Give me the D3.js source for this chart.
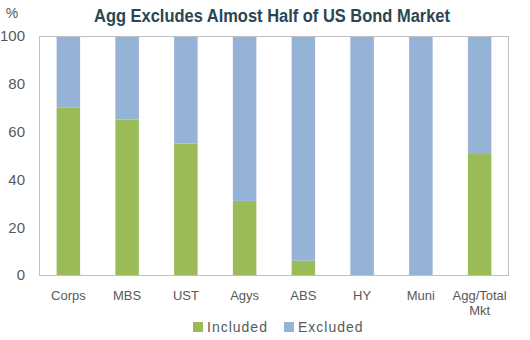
<!DOCTYPE html>
<html><head><meta charset="utf-8">
<script src="https://cdn.jsdelivr.net/npm/d3@7"></script>
<style>body{margin:0;background:#fff;}svg{display:block;}</style>
</head><body>
<svg id="c" width="530" height="340"></svg>
<script>
const categories = ["Corps","MBS","UST","Agys","ABS","HY","Muni","Agg/Total Mkt"];
const included = [70, 65, 55, 31, 6, 0, 0, 51];
const excluded = [30, 35, 45, 69, 94, 100, 100, 49];
const yTicks = [0, 20, 40, 60, 80, 100];
const seriesNames = ["Included", "Excluded"];
const colors = ["#9bbb59", "#95b3d7"];

const svg = d3.select("#c");
const m = {left: 39, right: 21, top: 36, bottom: 65};
const W = 530, H = 340;
const x = d3.scaleBand().domain(categories).range([m.left, W - m.right]).paddingInner(0.6).paddingOuter(0.3);
const y = d3.scaleLinear().domain([0, 100]).range([H - m.bottom, m.top]);

const rows = categories.map((c, i) => ({cat: c, Included: included[i], Excluded: excluded[i]}));
const stacked = d3.stack().keys(seriesNames)(rows);

svg.append("g").selectAll("g").data(stacked).join("g")
  .attr("fill", (d, i) => colors[i])
  .selectAll("rect").data(d => d).join("rect")
  .attr("x", d => x(d.data.cat))
  .attr("width", x.bandwidth())
  .attr("y", d => y(d[1]))
  .attr("height", d => y(d[0]) - y(d[1]));

// frame
svg.append("rect").attr("x", m.left + 0.5).attr("y", y(100) + 0.5)
  .attr("width", W - m.right - m.left - 1).attr("height", y(0) - y(100))
  .attr("fill", "none").attr("stroke", "#bfbfbf").attr("stroke-width", 1);

const font = "'Liberation Sans', Arial, sans-serif";
// y axis labels
const yAxis = d3.axisLeft(y).tickValues(yTicks).tickSize(0).tickPadding(0);
const ga = svg.append("g").attr("transform", `translate(25,0)`).call(yAxis);
ga.select(".domain").remove();
ga.selectAll("text").attr("font-family", font).attr("font-size", 15).attr("fill", "#595959");

svg.append("text").attr("x", 12).attr("y", 18).attr("text-anchor", "middle")
  .attr("font-family", font).attr("font-size", 14).attr("fill", "#595959").text("%");

// x axis labels
const gx = svg.append("g");
categories.forEach(c => {
  const cx = x(c) + x.bandwidth() / 2;
  const parts = c === "Agg/Total Mkt" ? ["Agg/Total", "Mkt"] : [c];
  parts.forEach((p, j) => {
    gx.append("text").attr("x", cx).attr("y", 300 + j * 15).attr("text-anchor", "middle")
      .attr("font-family", font).attr("font-size", 13).attr("fill", "#595959").text(p);
  });
});

// title
svg.append("text").attr("x", 272).attr("y", 22).attr("text-anchor", "middle")
  .attr("font-family", font).attr("font-weight", "bold").attr("font-size", 18)
  .attr("fill", "#2b4554").attr("textLength", 356).attr("lengthAdjust", "spacingAndGlyphs")
  .text("Agg Excludes Almost Half of US Bond Market");

// legend
const legX = [193, 284];
seriesNames.forEach((s, i) => {
  svg.append("rect").attr("x", legX[i]).attr("y", 322).attr("width", 10).attr("height", 10).attr("fill", colors[i]);
  svg.append("text").attr("x", legX[i] + 14).attr("y", 332)
    .attr("font-family", font).attr("font-size", 14).attr("letter-spacing", 1).attr("fill", "#595959").text(s);
});
</script>
</body></html>
